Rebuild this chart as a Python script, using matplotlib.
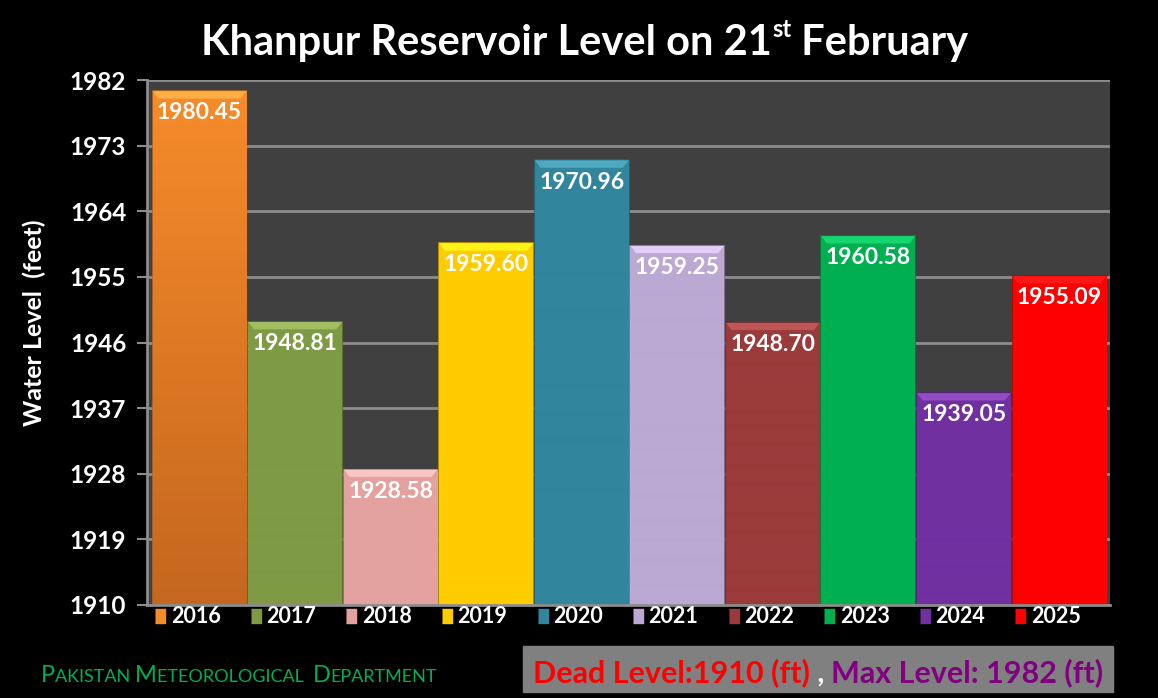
import numpy as np
import matplotlib
matplotlib.use("Agg")
import matplotlib.pyplot as plt
import matplotlib.colors as mcolors
import matplotlib.transforms as mtransforms

years = ["2016", "2017", "2018", "2019", "2020", "2021", "2022", "2023", "2024", "2025"]
levels = [1980.45, 1948.81, 1928.58, 1959.60, 1970.96, 1959.25, 1948.70, 1960.58, 1939.05, 1955.09]
bar_colors = ["#F68B2A", "#7F9A44", "#E3A19F", "#FFCC00", "#31859C",
              "#BBA8D3", "#9B3A3A", "#00B050", "#7030A0", "#FF0000"]
base_colors = ["#C5671F", "#7F9A44", "#E3A19F", "#FFCC00", "#31859C",
               "#BBA8D3", "#9B3A3A", "#00B050", "#7030A0", "#FF0000"]
yticks = [1910, 1919, 1928, 1937, 1946, 1955, 1964, 1973, 1982]
dead_level = 1910
max_level = 1982

FONT = ["Lato", "DejaVu Sans"]
plt.rcParams["font.family"] = FONT

fig = plt.figure(figsize=(11.58, 6.98), dpi=100, facecolor="black")
ax = fig.add_axes([147 / 1158, 1 - 605 / 698, 963 / 1158, 525 / 698])
ax.set_facecolor("#404040")

x = np.arange(len(years))
edge = [tuple(np.array(mcolors.to_rgb(c)) * 0.75) for c in bar_colors]
bars = ax.bar(x, np.array(levels) - dead_level, bottom=dead_level, width=0.98,
              color=bar_colors, edgecolor=edge, linewidth=1.2, zorder=2)

# shading and bevel on each bar
for patch, col, bcol in zip(bars, bar_colors, base_colors):
    x0, y0 = patch.get_x(), patch.get_y()
    w, h = patch.get_width(), patch.get_height()
    top_rgb = np.array(mcolors.to_rgb(col))
    bot_rgb = np.array(mcolors.to_rgb(bcol))
    f = np.linspace(0, 1, 64)[:, None]
    shade = bot_rgb * (1 - f) + top_rgb * f
    img = ax.imshow(shade[:, None, :], extent=(x0, x0 + w, y0, y0 + h),
                    origin="lower", aspect="auto", zorder=2.1)
    img.set_clip_path(patch)
    light = np.minimum(top_rgb * 1.1 + 0.12, 1)
    bev = 1.0
    ax.fill([x0, x0 + w, x0 + w - 0.06, x0 + 0.06],
            [y0 + h, y0 + h, y0 + h - bev, y0 + h - bev],
            color=light, alpha=0.8, zorder=2.2, linewidth=0)
    ax.annotate(f"{y0 + h:.2f}", (x0 + w / 2, y0 + h),
                xytext=(0, -8), textcoords="offset points", ha="center", va="top",
                color="white", fontsize=16.5, fontweight="bold", zorder=3)

ax.set_xlim(-0.55, 9.53)
ax.set_ylim(dead_level, max_level)
ax.set_yticks(yticks)
ax.set_xticks([])
ax.yaxis.grid(True, color="#8C8C8C", linewidth=2, zorder=0)
ax.set_axisbelow(True)
for s in ["top", "right"]:
    ax.spines[s].set_visible(False)
for s in ["left", "bottom"]:
    ax.spines[s].set_color("#8C8C8C")
    ax.spines[s].set_linewidth(2)
ax.tick_params(axis="y", colors="#8C8C8C", length=7, width=1.5, pad=8)
for lbl in ax.get_yticklabels():
    lbl.set_color("white")
    lbl.set_fontsize(17.5)
    lbl.set_fontweight("bold")
ax.set_ylabel("Water Level  (feet)", color="white", fontsize=18,
              fontweight="bold")
ax.yaxis.set_label_coords(-0.105, 0.537)

# legend row under the bars
key = [(-0.35, -0.5), (0.35, -0.5), (0.35, 0.5), (-0.35, 0.5)]
trans = mtransforms.blended_transform_factory(ax.transData, ax.transAxes)
for i, (yr, col) in enumerate(zip(years, bar_colors)):
    ax.plot(i - 0.41, -0.021, marker=key, markersize=10, color=col,
            markeredgecolor=col, transform=trans, clip_on=False)
    ax.text(i - 0.30, -0.021, yr, transform=trans, ha="left", va="center",
            color="white", fontsize=15.5, fontweight="bold")

# title with superscript
t1 = fig.text(0.17, 0.921, "Khanpur Reservoir Level on 21", color="white",
              fontsize=30, fontweight="bold", va="baseline")
t2 = fig.text(0, 0.947, "st", color="white", fontsize=17, fontweight="bold",
              va="baseline")
t3 = fig.text(0, 0.921, " February", color="white", fontsize=30,
              fontweight="bold", va="baseline")

# footer small caps
foot = [("P", 17), ("AKISTAN ", 13), ("M", 17), ("ETEOROLOGICAL  ", 13),
        ("D", 17), ("EPARTMENT", 13)]
foot_txt = []
for s, fs in foot:
    foot_txt.append(fig.text(41 / 1158, 1 - 682 / 698, s, color="#00B050",
                             fontsize=fs, va="baseline"))

# gray box with levels
fig.patches.append(plt.Rectangle((523 / 1158, 1 - 692 / 698), 590 / 1158, 46 / 698,
                                 transform=fig.transFigure, color="#808080"))
box = [("Dead Level:1910 (ft)", "#FF0000"), (" , ", "white"),
       ("Max Level: 1982 (ft)", "#800080")]
box_txt = []
for s, c in box:
    box_txt.append(fig.text(533 / 1158, 1 - 682 / 698, s, color=c, fontsize=22,
                            fontweight="bold", va="baseline"))

# lay out chained texts
fig.canvas.draw()
r = fig.canvas.get_renderer()
W = fig.bbox.width


def chain(texts, start_px):
    xp = start_px
    for t in texts:
        t.set_x(xp / W)
        xp += t.get_window_extent(r).width
    return xp


total = sum(t.get_window_extent(r).width for t in (t1, t2, t3))
chain([t1, t2, t3], (585 * W / 1158) - total / 2)
chain(foot_txt, 41)
bw = sum(t.get_window_extent(r).width for t in box_txt)
chain(box_txt, (818 * W / 1158) - bw / 2)

fig.savefig("out.png", dpi=100, facecolor="black")
